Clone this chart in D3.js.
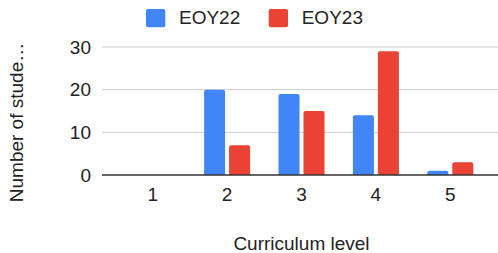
<!DOCTYPE html>
<html><head><meta charset="utf-8">
<script src="https://cdn.jsdelivr.net/npm/d3@7"></script>
<style>body{margin:0;background:#fff}svg{display:block}text{font-family:"Liberation Sans",Arial,sans-serif;fill:#222}</style>
</head><body>
<svg id="c" width="498" height="253"></svg>
<script>
const categories = ["1","2","3","4","5"];
const seriesNames = ["EOY22","EOY23"];
const eoy22 = [0,20,19,14,1];
const eoy23 = [0,7,15,29,3];
const yTicks = [0,10,20,30];
const colors = ["#4285F4","#EA4335"];

const svg = d3.select("#c");
const x0 = d3.scaleBand().domain(categories).range([115.5,487.5]).padding(0);
const x1 = d3.scaleBand().domain(seriesNames).range([-23,23]).paddingInner(0.16);
const y = d3.scaleLinear().domain([0,30]).range([175,47]);

// gridlines
svg.append("g").selectAll("line").data(yTicks.filter(t=>t>0)).join("line")
  .attr("x1",102).attr("x2",498).attr("y1",d=>y(d)).attr("y2",d=>y(d))
  .attr("stroke","#ccc").attr("stroke-width",1);

// y tick labels
svg.append("g").selectAll("text").data(yTicks).join("text")
  .attr("x",91).attr("y",d=>y(d)).attr("dy","0.35em").attr("text-anchor","end")
  .attr("font-size",19).text(d=>d);

// bars
const data = categories.map((c,i)=>({c, vals:[eoy22[i],eoy23[i]]}));
const g = svg.append("g");
data.forEach(d=>{
  d.vals.forEach((v,j)=>{
    if(v<=0) return;
    const cx = x0(d.c)+x0.bandwidth()/2;
    const h = 175 - y(v);
    const r = Math.min(2, h/2);
    const bx = cx + x1(seriesNames[j]), bw = x1.bandwidth(), by = y(v);
    const p = d3.path();
    p.moveTo(bx, 175);
    p.lineTo(bx, by + r);
    p.arcTo(bx, by, bx + r, by, r);
    p.lineTo(bx + bw - r, by);
    p.arcTo(bx + bw, by, bx + bw, by + r, r);
    p.lineTo(bx + bw, 175);
    p.closePath();
    g.append("path").attr("d", p.toString()).attr("fill", colors[j]);
  });
});

// baseline
svg.append("line").attr("x1",102).attr("x2",498).attr("y1",175).attr("y2",175)
  .attr("stroke","#333").attr("stroke-width",1.5);

// x axis labels
svg.append("g").selectAll("text").data(categories).join("text")
  .attr("x",d=>x0(d)+x0.bandwidth()/2).attr("y",200.5).attr("text-anchor","middle")
  .attr("font-size",19).text(d=>d);

// x title
svg.append("text").attr("x",301.5).attr("y",249.5).attr("text-anchor","middle")
  .attr("font-size",19).text("Curriculum level");

// y title
svg.append("text").attr("transform","translate(22.5,122.5) rotate(-90)")
  .attr("text-anchor","middle").attr("font-size",19).text("Number of stude…");

// legend
const leg = svg.append("g");
const legX = [146, 268.7];
seriesNames.forEach((s,i)=>{
  leg.append("rect").attr("x",legX[i]).attr("y",9).attr("width",19.3).attr("height",18.3)
    .attr("rx",2).attr("fill",colors[i]);
  leg.append("text").attr("x",legX[i]+33).attr("y",24).attr("font-size",19).text(s);
});
</script>
</body></html>
